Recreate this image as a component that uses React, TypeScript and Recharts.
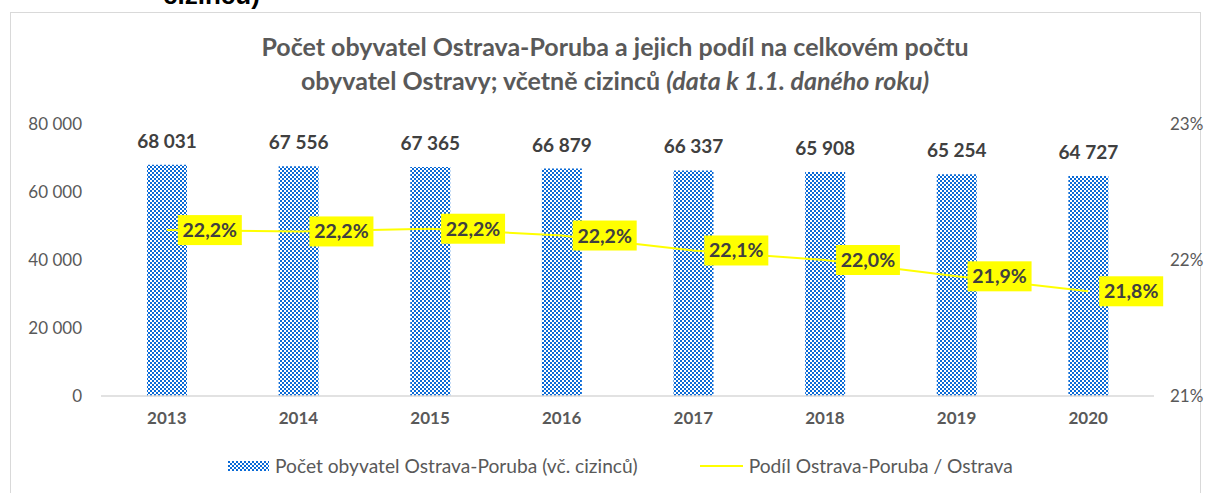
import { ComposedChart, Bar, Line, XAxis, YAxis, LabelList } from 'recharts';

const years = ['2013', '2014', '2015', '2016', '2017', '2018', '2019', '2020'];
const residents = [68031, 67556, 67365, 66879, 66337, 65908, 65254, 64727];
const sharePct = [22.22, 22.21, 22.23, 22.18, 22.07, 22.0, 21.88, 21.77];
const leftTicks = [0, 20000, 40000, 60000, 80000];
const rightTicks = [21, 22, 23];

const data = years.map((year, i) => ({ year, residents: residents[i], share: sharePct[i] }));

const FONT = 'Lato, "Open Sans", sans-serif';
const GREY = '#595959';

// mezera jako oddělovač tisíců (nezalomitelná, aby se štítek nelámal)
const fmtThousands = (v: number) => String(v).replace(/\B(?=(\d{3})+(?!\d))/g, '\u00a0');

// žlutý štítek vpravo od bodu
function ShareLabel(props: any) {
  const { x, y, value } = props;
  if (x == null || y == null) return null;
  const text = `${Number(value).toFixed(1).replace('.', ',')}%`;
  return (
    <g>
      <rect x={x + 11} y={y - 15} width={64} height={30} fill="#ffff00" />
      <text x={x + 43} y={y + 7} textAnchor="middle" fontFamily={FONT} fontSize={19.5} fontWeight={700} fill="#404040">
        {text}
      </text>
    </g>
  );
}

function CheckerDefs() {
  return (
    <defs>
      <pattern id="checker" width="4" height="4" patternUnits="userSpaceOnUse">
        <rect width="4" height="4" fill="#ffffff" />
        <rect x="0" y="0" width="2" height="2" fill="#0a6ad6" />
        <rect x="2" y="2" width="2" height="2" fill="#0a6ad6" />
      </pattern>
    </defs>
  );
}

export default function App() {
  return (
    <div style={{ position: 'relative', width: 1205, height: 493, background: '#fff', overflow: 'hidden', fontFamily: FONT }}>
      <style>{'body{margin:0}'}</style>

      {/* zbytek nadpisu z předchozí stránky */}
      <div style={{ position: 'absolute', left: 163, top: -18, fontFamily: '"Liberation Sans", Arial, sans-serif', fontWeight: 700, fontSize: 26, lineHeight: '26px', color: '#000' }}>
        cizinců)
      </div>

      <div style={{ position: 'absolute', left: 10, top: 12, width: 1191, height: 520, border: '1px solid #d9d9d9', boxSizing: 'border-box' }} />

      <div style={{ position: 'absolute', left: 0, width: 1230, top: 29, textAlign: 'center', color: GREY, fontWeight: 700, fontSize: 25, lineHeight: '34px' }}>
        <div>Počet obyvatel Ostrava-Poruba a jejich podíl na celkovém počtu</div>
        <div>
          obyvatel Ostravy; včetně cizinců <i>(data k 1.1. daného roku)</i>
        </div>
      </div>

      <div style={{ position: 'absolute', left: 0, top: 0 }}>
        <ComposedChart width={1205} height={493} data={data} margin={{ top: 124, right: 10, bottom: 67, left: 10 }}>
          <CheckerDefs />
          <XAxis
            dataKey="year"
            height={30}
            tickLine={false}
            axisLine={{ stroke: '#d9d9d9', strokeWidth: 1.5 }}
            tickMargin={10}
            tick={{ fill: GREY, fontFamily: FONT, fontSize: 17, fontWeight: 700 }}
          />
          <YAxis
            yAxisId="left"
            width={91}
            domain={[0, 80000]}
            ticks={leftTicks}
            tickFormatter={fmtThousands}
            axisLine={false}
            tickLine={false}
            tickMargin={13}
            tick={{ fill: GREY, fontFamily: FONT, fontSize: 17 }}
          />
          <YAxis
            yAxisId="right"
            orientation="right"
            width={41}
            domain={[21, 23]}
            ticks={rightTicks}
            tickFormatter={(v: number) => `${v}%`}
            axisLine={false}
            tickLine={false}
            tickMargin={10}
            tick={{ fill: GREY, fontFamily: FONT, fontSize: 17 }}
          />
          <Bar yAxisId="left" dataKey="residents" barSize={40} fill="url(#checker)" isAnimationActive={false}>
            <LabelList
              dataKey="residents"
              position="top"
              offset={17}
              formatter={(v: any) => fmtThousands(Number(v))}
              style={{ fill: '#404040', fontFamily: FONT, fontSize: 19, fontWeight: 700 }}
            />
          </Bar>
          <Line yAxisId="right" dataKey="share" stroke="#ffff00" strokeWidth={2} dot={false} isAnimationActive={false}>
            <LabelList dataKey="share" content={<ShareLabel />} />
          </Line>
        </ComposedChart>
      </div>

      {/* legenda */}
      <div style={{ position: 'absolute', left: 228, top: 454, display: 'flex', alignItems: 'center', color: GREY, fontSize: 19.2, whiteSpace: 'nowrap' }}>
        <svg width={41} height={10} style={{ marginRight: 6 }}>
          <rect width={41} height={10} fill="url(#checker)" />
        </svg>
        <span>Počet obyvatel Ostrava-Poruba (vč. cizinců)</span>
        <svg width={43} height={10} style={{ marginLeft: 62, marginRight: 6 }}>
          <line x1={0} x2={43} y1={5} y2={5} stroke="#ffff00" strokeWidth={2} />
        </svg>
        <span>Podíl Ostrava-Poruba / Ostrava</span>
      </div>
    </div>
  );
}
